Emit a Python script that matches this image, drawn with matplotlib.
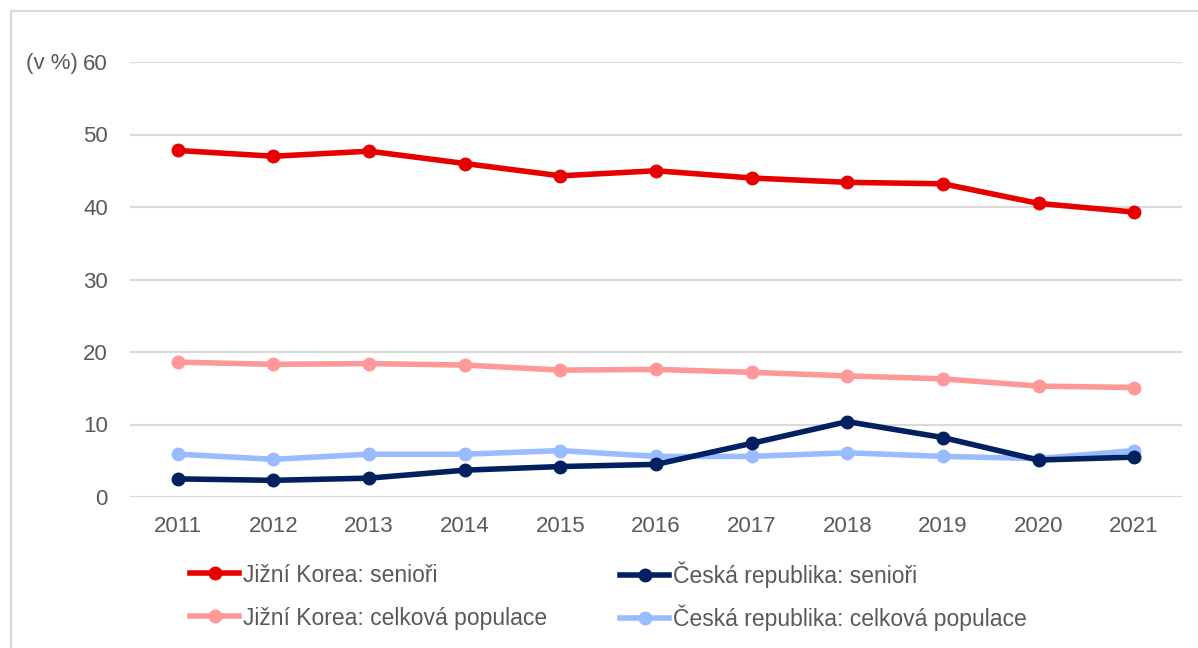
import matplotlib.pyplot as plt
from matplotlib.lines import Line2D
from matplotlib.patches import Rectangle

# data
years = ["2011", "2012", "2013", "2014", "2015", "2016", "2017", "2018", "2019", "2020", "2021"]
kr_seniors = [47.8, 47.0, 47.7, 46.0, 44.3, 45.0, 44.0, 43.4, 43.2, 40.5, 39.3]
cz_seniors = [2.5, 2.3, 2.6, 3.7, 4.2, 4.5, 7.4, 10.4, 8.2, 5.1, 5.5]
kr_total = [18.6, 18.3, 18.4, 18.2, 17.5, 17.6, 17.2, 16.7, 16.3, 15.3, 15.1]
cz_total = [5.9, 5.2, 5.9, 5.9, 6.4, 5.6, 5.6, 6.1, 5.6, 5.3, 6.4]

labels = {
    "kr_seniors": "Jižní Korea: senioři",
    "cz_seniors": "Česká republika: senioři",
    "kr_total": "Jižní Korea: celková populace",
    "cz_total": "Česká republika: celková populace",
}
colors = {
    "kr_seniors": "#E60000",
    "cz_seniors": "#002060",
    "kr_total": "#FF9999",
    "cz_total": "#99BBFF",
}

plt.rcParams["font.family"] = ["Liberation Sans", "DejaVu Sans"]
text_color = "#595959"

fig = plt.figure(figsize=(11.98, 6.48), dpi=100)
ax = fig.add_axes([130 / 1198, 1 - 497 / 648, 1052 / 1198, 435 / 648])

x = list(range(len(years)))
series = [
    ("kr_total", kr_total),
    ("cz_total", cz_total),
    ("cz_seniors", cz_seniors),
    ("kr_seniors", kr_seniors),
]
for key, vals in series:
    ax.plot(x, vals, color=colors[key], lw=4, marker="o", ms=9,
            solid_capstyle="round", label=labels[key])

ax.set_xlim(-0.5, len(years) - 0.5)
ax.set_ylim(0, 60)
ax.set_yticks(range(0, 61, 10))
ax.set_xticks(x)
ax.set_xticklabels(years)
ax.grid(axis="y", color="#D9D9D9", lw=1.5)
ax.set_axisbelow(True)
for s in ax.spines.values():
    s.set_visible(False)
ax.tick_params(axis="both", length=0, labelsize=16, colors=text_color)
ax.tick_params(axis="y", pad=16)
ax.tick_params(axis="x", pad=14)

fig.text(78 / 1198, 1 - 63 / 648, "(v %)", fontsize=16, color=text_color,
         ha="right", va="center")

# legend: one small legend per entry so rows line up
legend_pos = {
    "kr_seniors": (190, 575),
    "kr_total": (190, 618),
    "cz_seniors": (620, 575),
    "cz_total": (620, 618),
}
for key, (px, py) in legend_pos.items():
    h = Line2D([], [], color=colors[key], lw=4, marker="o", ms=9)
    leg = fig.legend([h], [labels[key]], loc="center left",
                     bbox_to_anchor=(px / 1198, 1 - py / 648),
                     frameon=False, fontsize=16.5, handlelength=2.15,
                     handletextpad=0.15, borderpad=0, borderaxespad=0)
    for t in leg.get_texts():
        t.set_color(text_color)

# outer chart frame (cut off at right and bottom)
fig.patches.append(Rectangle((11 / 1198, -0.1), 1.2, 1.1 - 11 / 648,
                             transform=fig.transFigure, fill=False,
                             edgecolor="#D9D9D9", lw=1.5))

fig.savefig("out.png", dpi=100)
